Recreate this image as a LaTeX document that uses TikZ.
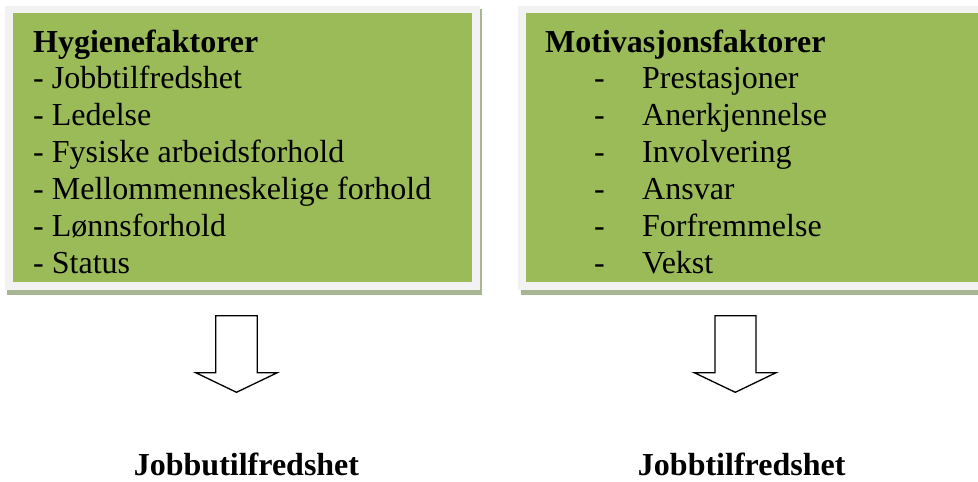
\documentclass[tikz,border=0pt]{standalone}
\usepackage{fontspec}
\setmainfont{Liberation Serif}
\definecolor{boxgreen}{HTML}{9BBB59}
\definecolor{framegray}{HTML}{F2F2F2}
\definecolor{shadowc}{HTML}{A7B592}
\tikzset{
  txt/.style={anchor=base west, inner sep=0pt, font=\fontsize{32}{37}\selectfont},
  ttl/.style={txt, font=\fontsize{32}{37}\selectfont\bfseries},
  result/.style={anchor=base, inner sep=0pt, font=\fontsize{32}{37}\selectfont\bfseries},
  blockarrow/.style={draw=black, line width=1.3pt, fill=white, line join=miter},
}
\begin{document}
\begin{tikzpicture}[x=1pt,y=-1pt]
\useasboundingbox (0,0) rectangle (978,482);
% left box
\fill[shadowc] (7,289) rectangle (482,294.5);
\fill[shadowc] (479,9) rectangle (482,294.5);
\fill[framegray] (5,6) rectangle (479.5,289.5);
\fill[boxgreen] (13,13) rectangle (472,282);
% right box
\fill[shadowc] (520.5,289) rectangle (978,294.5);
\fill[framegray] (518,6) rectangle (978,289.5);
\fill[boxgreen] (526,13) rectangle (978,282);
% left texts
\node[ttl] (h0) at (33,52) {Hygienefaktorer};
\node[txt] (h1) at (33,88.9) {- Jobbtilfredshet};
\node[txt] (h2) at (33,125.8) {- Ledelse};
\node[txt] (h3) at (33,162.7) {- Fysiske arbeidsforhold};
\node[txt] (h4) at (33,199.6) {- Mellommenneskelige forhold};
\node[txt] (h5) at (33,236.5) {- Lønnsforhold};
\node[txt] (h6) at (33,273.4) {- Status};
% right texts
\node[ttl] (m0) at (545,52) {Motivasjonsfaktorer};
\foreach \i/\t in {1/Prestasjoner,2/Anerkjennelse,3/Involvering,4/Ansvar,5/Forfremmelse,6/Vekst}{
  \node[txt] (md\i) at (594,{52+36.9*\i}) {-};
  \node[txt] (m\i) at (642,{52+36.9*\i}) {\t};
}
% arrows
\draw[blockarrow] (215.7,315.7) -- (257.3,315.7) -- (257.3,372.7) -- (277.3,372.7)
  -- (236.5,392.3) -- (195.7,372.7) -- (215.7,372.7) -- cycle;
\draw[blockarrow] (715,315.7) -- (756,315.7) -- (756,372.7) -- (776,372.7)
  -- (735.3,392.3) -- (694.3,372.7) -- (715,372.7) -- cycle;
% results
\node[result] (r1) at (246.5,475) {Jobbutilfredshet};
\node[result] (r2) at (741.7,475) {Jobbtilfredshet};
\end{tikzpicture}
\end{document}
